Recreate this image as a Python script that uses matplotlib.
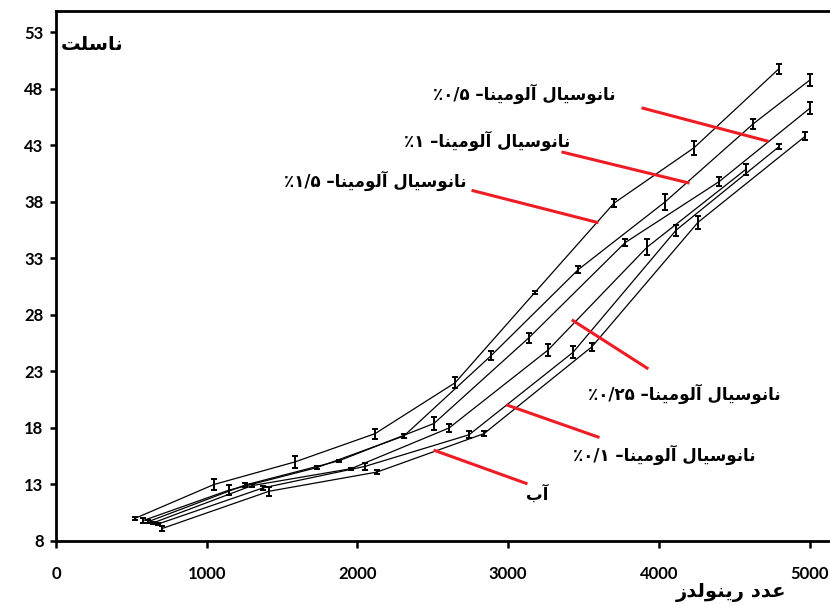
import matplotlib
matplotlib.use('Agg')
import matplotlib.pyplot as plt

# Nusselt number vs Reynolds number for water and alumina nanofluids
re_15 = [524, 1048, 1586, 2117, 2648, 3178, 3703, 4234, 4798]
nu_15 = [10.0, 13.0, 15.0, 17.5, 22.0, 30.0, 37.9, 42.8, 49.8]
err_15 = [0.15, 0.45, 0.5, 0.45, 0.5, 0.15, 0.35, 0.6, 0.45]

re_10 = [577, 1148, 1732, 2309, 2887, 3464, 4041, 4625, 5003]
nu_10 = [9.8, 12.5, 14.5, 17.3, 24.4, 32.0, 38.0, 44.9, 48.8]
err_10 = [0.2, 0.45, 0.1, 0.2, 0.4, 0.3, 0.7, 0.4, 0.55]

re_05 = [610, 1254, 1878, 2508, 3139, 3776, 4400, 5003]
nu_05 = [9.7, 12.95, 15.1, 18.4, 26.0, 34.4, 39.8, 46.3]
err_05 = [0.15, 0.15, 0.1, 0.6, 0.45, 0.3, 0.4, 0.55]

re_025 = [644, 1300, 1958, 2608, 3265, 3922, 4579]
nu_025 = [9.6, 12.9, 14.4, 18.0, 24.9, 34.0, 40.9]
err_025 = [0.1, 0.15, 0.1, 0.35, 0.55, 0.7, 0.5]

re_01 = [677, 1374, 2050, 2741, 3431, 4114, 4798]
nu_01 = [9.5, 12.7, 14.6, 17.4, 24.7, 35.5, 42.9]
err_01 = [0.1, 0.15, 0.3, 0.3, 0.55, 0.5, 0.2]

re_w = [703, 1413, 2130, 2840, 3557, 4260, 4970]
nu_w = [9.1, 12.4, 14.1, 17.5, 25.2, 36.2, 43.8]
err_w = [0.25, 0.4, 0.15, 0.2, 0.35, 0.55, 0.35]

x_ticks = [0, 1000, 2000, 3000, 4000, 5000]
y_ticks = [8, 13, 18, 23, 28, 33, 38, 43, 48, 53]

# presentation forms: isolated, final, initial, medial
FORMS = {
    'ا': ('\uFE8D', '\uFE8E', None, None),
    'آ': ('\uFE81', '\uFE82', None, None),
    'ب': ('\uFE8F', '\uFE90', '\uFE91', '\uFE92'),
    'ت': ('\uFE95', '\uFE96', '\uFE97', '\uFE98'),
    'د': ('\uFEA9', '\uFEAA', None, None),
    'ر': ('\uFEAD', '\uFEAE', None, None),
    'ز': ('\uFEAF', '\uFEB0', None, None),
    'س': ('\uFEB1', '\uFEB2', '\uFEB3', '\uFEB4'),
    'ع': ('\uFEC9', '\uFECA', '\uFECB', '\uFECC'),
    'ل': ('\uFEDD', '\uFEDE', '\uFEDF', '\uFEE0'),
    'م': ('\uFEE1', '\uFEE2', '\uFEE3', '\uFEE4'),
    'ن': ('\uFEE5', '\uFEE6', '\uFEE7', '\uFEE8'),
    'و': ('\uFEED', '\uFEEE', None, None),
    'ی': ('\uFBFC', '\uFBFD', '\uFEF3', '\uFEF4'),
}


def farsi(text):
    # shape letters and lay them out left to right
    out = []
    for i, ch in enumerate(text):
        if ch not in FORMS:
            out.append(ch)
            continue
        prev = text[i - 1] if i > 0 else ''
        nxt = text[i + 1] if i + 1 < len(text) else ''
        iso, fin, ini, med = FORMS[ch]
        join_prev = prev in FORMS and FORMS[prev][2] is not None
        join_next = nxt in FORMS and ini is not None
        if join_prev and join_next:
            out.append(med)
        elif join_prev:
            out.append(fin)
        elif join_next:
            out.append(ini)
        else:
            out.append(iso)
    return ''.join(reversed(out))


def nano_label(pct):
    return '٪' + pct + ' –' + farsi('نانوسیال آلومینا')


fig = plt.figure(figsize=(8.3, 6.05), dpi=100)
ax = fig.add_axes([0.0675, 0.1058, 0.9325, 0.876])

series = [
    (re_15, nu_15, err_15),
    (re_10, nu_10, err_10),
    (re_05, nu_05, err_05),
    (re_025, nu_025, err_025),
    (re_01, nu_01, err_01),
    (re_w, nu_w, err_w),
]
for x, y, e in series:
    ax.errorbar(x, y, yerr=e, color='black', lw=0.9, elinewidth=1.4,
                capsize=2.5, capthick=1.4, zorder=3)

ax.set_xlim(0, 5136)
ax.set_ylim(8, 54.9)
ax.set_xticks(x_ticks)
ax.set_yticks(y_ticks)
ax.tick_params(axis='x', direction='out', length=5, width=1.8, pad=13)
ax.tick_params(axis='y', direction='out', length=4, width=1.8, pad=5)
for lab in ax.get_xticklabels() + ax.get_yticklabels():
    lab.set_fontfamily('Lato')
    lab.set_fontweight('bold')
    lab.set_fontsize(12)
for side in ['left', 'bottom', 'top']:
    ax.spines[side].set_linewidth(2)
ax.spines['right'].set_visible(False)

fa = dict(family=['DejaVu Sans'], fontweight='bold', ha='center', va='center')

# pointer lines from labels to curves
red = '#ee1c24'
pointers = [
    ((3895, 4718), (46.3, 43.4)),
    ((3364, 4194), (42.4, 39.7)),
    ((2767, 3590), (39.0, 36.2)),
    ((3431, 3922), (27.5, 23.3)),
    ((2999, 3597), (20.0, 17.2)),
    ((2515, 3119), (16.0, 13.1)),
]
for px, py in pointers:
    ax.plot(px, py, color=red, lw=2.2, zorder=4)

ax.text(3105, 47.6, nano_label('۰/۵'), fontsize=12, **fa)
ax.text(2860, 43.4, nano_label('۱'), fontsize=12, **fa)
ax.text(2117, 39.9, nano_label('۱/۵'), fontsize=12, **fa)
ax.text(4167, 21.0, nano_label('۰/۲۵'), fontsize=12, **fa)
ax.text(4034, 15.6, nano_label('۰/۱'), fontsize=12, **fa)
ax.text(3192, 12.1, farsi('آب'), fontsize=12, **fa)

ax.text(239, 51.9, farsi('ناسلت'), fontsize=14, **fa)
ax.text(4479, 3.4, farsi('عدد رینولدز'), fontsize=14, clip_on=False, **fa)

fig.savefig('out.png', dpi=100)
